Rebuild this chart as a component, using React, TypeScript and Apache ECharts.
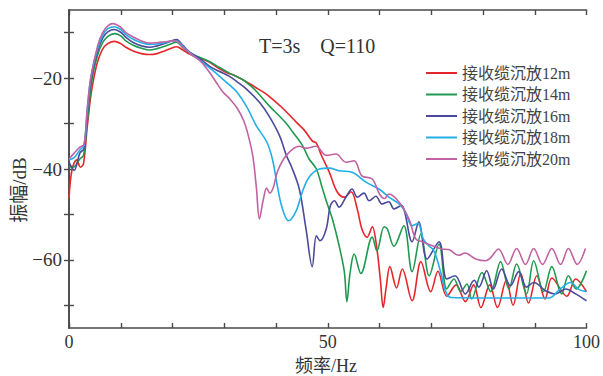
import React, { useEffect, useRef } from "react";
import * as echarts from "echarts";

const seriesNames = ["接收缆沉放12m", "接收缆沉放14m", "接收缆沉放16m", "接收缆沉放18m", "接收缆沉放20m"];
const seriesColors = ["#e6262b", "#1f9a50", "#4b4a9c", "#22aee8", "#c163a3"];

const xTicks = [0, 10, 20, 30, 40, 50, 60, 70, 80, 90, 100];
const xLabels = [0, 50, 100];
const yTicks = [-70, -60, -50, -40, -30, -20, -10];
const yLabels = [-60, -40, -20];

const red12: number[][] = [
  [0, -46.6], [0.6, -40], [1.5, -38], [2.2, -39.6], [2.8, -38.8], [3.5, -31], [4.2, -24], [4.8, -20], [5.5, -16.5],
  [6.5, -13.6], [7.5, -12.4], [8.8, -11.9], [10, -12.4], [11, -13.2], [12.5, -14.1], [14, -14.6], [15.6, -14.8],
  [17, -14.6], [18.5, -14], [20, -13.3], [20.8, -13.1], [22, -13.8], [23.3, -14.7], [25, -15.5], [27, -16.4],
  [29, -17.9], [30.5, -18.8], [32, -19.4], [34, -20.6], [36, -22], [38, -23.4], [39.5, -24.8], [41, -26.3],
  [42.5, -28], [44, -29.8], [45.5, -31.5], [47, -33.8], [47.8, -34.3], [48.7, -36.8], [50.3, -40.7], [51.8, -45],
  [53.2, -46.2], [54.5, -45], [55.7, -48.8], [56.6, -53.2], [57.6, -55], [58.6, -52.7], [59.5, -57.6], [60.2, -64.8],
  [60.7, -70.5], [61.3, -66], [62, -61.5], [63.3, -66.2], [64.4, -62], [66.3, -69], [68, -60.4], [69.9, -67],
  [71.3, -62.5], [73, -68], [74.8, -65.5], [76.6, -69.2], [78.2, -65.5], [79.6, -70.5], [81.3, -65.5], [82.8, -70.5],
  [84.5, -64.5], [85.8, -70], [87.3, -63], [88.8, -69.5], [90.4, -63.5], [92, -68.6], [93.3, -64], [96.2, -68],
  [97.9, -64.2], [100, -67],
];

const green14: number[][] = [
  [0, -39.5], [0.8, -39.6], [2.1, -37.8], [2.8, -37], [3.5, -30], [4.5, -20], [5.5, -15], [6.5, -12.2], [7.5, -10.8],
  [8.8, -10.2], [10, -10.7], [11, -11.8], [12.5, -12.8], [14, -13.4], [15.6, -13.8], [17, -13.5], [18.5, -13],
  [20, -12.3], [20.8, -12.1], [22, -13.3], [23.3, -14.4], [25, -15.3], [27, -16.3], [29, -17.6], [31, -18.9],
  [33.5, -20.3], [35, -21.6], [36.2, -22.9], [38.7, -26.1], [40.7, -28.4], [42, -30], [43.2, -31.8], [45.1, -34.8],
  [46.4, -37.8], [47.8, -40], [49, -44.4], [50, -48], [50.9, -51], [52.2, -56.9], [53.2, -62.6], [53.7, -69.2],
  [54.3, -63], [55.1, -58.7], [56.4, -63], [58.6, -55], [59.5, -58], [60.9, -52.7], [61.5, -53.2], [62.8, -57],
  [64.7, -52.5], [66.3, -62.6], [68, -54.3], [69.6, -63.5], [71.5, -56.5], [73, -66.4], [74.4, -64.2], [75.7, -67],
  [76.9, -65.3], [77.8, -68.6], [79.8, -62.8], [81.5, -67], [83.4, -60.4], [85, -66.4], [86.5, -60.9], [88.4, -67.5],
  [89.8, -60.2], [91.7, -67], [93.3, -61.5], [95.2, -67.5], [96.5, -63.5], [98, -66.4], [100, -62.4],
];

const blue16: number[][] = [
  [0, -38.5], [1, -40.3], [2.1, -36.5], [2.9, -35.5], [3.5, -28.5], [4.3, -20], [5.5, -14.2], [6.5, -11.2], [7.5, -9.8],
  [8.8, -9.3], [10, -9.9], [11, -11], [12.5, -12.2], [14, -12.9], [15.6, -13.2], [17, -12.9], [18.5, -12.4],
  [20, -11.7], [20.8, -11.5], [22, -12.8], [23.3, -14.3], [25, -15.5], [27.2, -17.4], [29, -18.5], [31, -19.6],
  [32.5, -20.8], [34.3, -22.4], [36.8, -25.3], [38.7, -28.4], [40.7, -32.7], [42, -37], [43, -39.5], [44.5, -44.4],
  [45.8, -53.2], [47, -61.5], [47.8, -54.7], [48.5, -55.8], [49.7, -53.2], [50.5, -48.1], [51.3, -47], [52.2, -48.4],
  [53.5, -46.2], [54.7, -44.4], [55.7, -46.2], [57, -45.3], [58, -47], [59.3, -46], [60.5, -47.7], [61.8, -47.2],
  [62.8, -48.8], [64.2, -48], [66.3, -56], [67.6, -51.6], [69.2, -59.8], [71.5, -56], [73, -64.2], [74.6, -63.5],
  [76.6, -67.5], [78.3, -64.5], [79.2, -66], [80.7, -62.4], [82, -66.4], [83.6, -62], [85.3, -65.7], [86.9, -62.6],
  [88.4, -66], [89.8, -65], [92.1, -66.8], [94, -67.5], [96, -66.4], [97.9, -67.5], [100, -69],
];

const cyan18: number[][] = [
  [0, -38], [1, -37.5], [2.1, -35.8], [2.9, -34.8], [3.5, -27.5], [4.2, -20], [5.5, -13.6], [6.5, -10.6], [7.5, -9.1],
  [8.8, -8.7], [10, -9.3], [11, -10.4], [12.5, -11.5], [14, -12.2], [15.6, -12.6], [17, -12.5], [18.5, -12.2],
  [20, -11.8], [20.8, -11.8], [22, -13], [23.3, -14.4], [25, -15.8], [26.2, -16.9], [28, -18.5], [29.7, -20.2],
  [31, -21.5], [32.4, -23], [34.3, -26.2], [36.2, -30.5], [38.2, -34], [39.3, -37.8], [40.3, -44], [41.2, -48.6],
  [42.4, -51.4], [43.9, -49.2], [45.1, -45], [46.4, -41.8], [48.4, -40], [50.3, -39.8], [52.2, -40.4], [54.7, -40.7],
  [57.4, -42.9], [59.9, -44.4], [61.8, -46.2], [63.8, -47.7], [65, -49.5], [66.3, -52.5], [67.4, -52], [68.5, -55.5],
  [69.6, -57], [70.4, -57.8], [71.1, -59.8], [72, -63.5], [72.8, -67], [73.8, -68.3], [80, -68.4], [92.7, -68.4],
  [95, -66.3], [96.9, -65], [98.5, -66.5], [100, -67],
];

const pink20: number[][] = [
  [0, -37.8], [1, -36.5], [2.1, -35.2], [2.9, -34.6], [3.5, -27], [4.2, -20], [5.5, -13], [6.5, -10], [7.5, -8.5],
  [8.5, -8], [10, -8.8], [11, -10], [12.5, -11], [14, -11.8], [15.6, -12.3], [17, -12.2], [18.5, -12], [20, -11.8],
  [20.8, -11.9], [22, -13.2], [23.3, -14.5], [24.5, -15.5], [25.6, -16.5], [27, -18.5], [28.5, -21], [29.7, -23],
  [31, -24.5], [32.6, -26.8], [33.8, -29.5], [34.5, -32], [35.5, -37], [36.2, -44], [36.8, -51], [37.5, -47],
  [38.2, -44.2], [38.8, -45.3], [39.5, -44], [40.3, -40.5], [42, -37], [44.5, -35], [45.8, -35.4], [47.7, -35],
  [49.7, -37], [51.6, -36.7], [53.5, -38.5], [55.1, -38.2], [56.6, -41.5], [58.6, -42.2], [60, -45.5], [61, -46.5],
  [61.8, -45.5], [63.8, -47.3], [65.7, -51], [67, -55.4], [68.2, -56], [70.5, -57], [72, -57.6], [73.5, -57.8],
  [75.3, -59], [76.5, -58.5], [78.6, -59.8], [80.5, -60.2], [81.5, -59.5], [83, -57.6], [84.8, -61], [86.5, -57.5],
  [88.2, -61], [89.8, -57.5], [91.5, -61], [93.3, -57.5], [95, -61], [96.5, -57.5], [98.2, -61], [99.8, -57.5],
];

const allData = [red12, green14, blue16, cyan18, pink20];

const FONT = '"Liberation Serif", "Noto Sans CJK SC", serif';
const AXIS_COLOR = "#4a4a4a";

export default function App() {
  const ref = useRef<HTMLDivElement>(null);
  useEffect(() => {
    if (!ref.current) return;
    const chart = echarts.init(ref.current, null, { renderer: "svg" });
    const axisLine = { show: true, lineStyle: { color: AXIS_COLOR, width: 1.6 } };
    const tick = { show: true, inside: true, length: 5, lineStyle: { color: AXIS_COLOR, width: 1.4 } };
    const minus = (v: number) => String(v).replace("-", "\u2212");
    chart.setOption({
      animation: false,
      backgroundColor: "#ffffff",
      grid: { left: 69, right: 15, top: 10, bottom: 48, containLabel: false },
      title: {
        text: "T=3s    Q=110",
        left: 254,
        top: 31,
        textStyle: { fontFamily: FONT, fontSize: 20, fontWeight: "normal", color: "#333" },
      },
      legend: {
        orient: "vertical",
        left: 421,
        top: 60,
        itemWidth: 31,
        itemHeight: 2,
        itemGap: 5.5,
        icon: "rect",
        data: seriesNames,
        textStyle: { fontFamily: FONT, fontSize: 16, color: "#444", lineHeight: 16 },
      },
      xAxis: [
        {
          type: "value",
          min: 0,
          max: 100,
          position: "bottom",
          axisLine,
          axisTick: { ...tick, customValues: xTicks },
          axisLabel: { customValues: xLabels, fontFamily: FONT, fontSize: 18, color: "#333", margin: 5 },
          splitLine: { show: false },
        },
        {
          type: "value",
          min: 0,
          max: 100,
          position: "top",
          axisLine,
          axisTick: { ...tick, customValues: xTicks },
          axisLabel: { show: false },
          splitLine: { show: false },
        },
      ],
      yAxis: [
        {
          type: "value",
          min: -75,
          max: -5,
          position: "left",
          axisLine,
          axisTick: { ...tick, customValues: yTicks },
          axisLabel: { customValues: yLabels, formatter: minus, fontFamily: FONT, fontSize: 19, color: "#333", margin: 7 },
          splitLine: { show: false },
        },
        {
          type: "value",
          min: -75,
          max: -5,
          position: "right",
          axisLine,
          axisTick: { ...tick, customValues: yTicks },
          axisLabel: { show: false },
          splitLine: { show: false },
        },
      ],
      graphic: [
        {
          type: "text",
          x: 19,
          y: 190,
          rotation: Math.PI / 2,
          style: {
            text: "振幅/dB",
            fontFamily: FONT,
            fontSize: 19,
            fill: "#333",
            align: "center",
            verticalAlign: "middle",
          },
        },
        {
          type: "text",
          x: 326,
          y: 366,
          style: {
            text: "频率/Hz",
            fontFamily: FONT,
            fontSize: 18,
            fill: "#333",
            align: "center",
            verticalAlign: "middle",
          },
        },
      ],
      series: allData.map((d, i) => ({
        name: seriesNames[i],
        type: "line",
        data: d,
        xAxisIndex: 0,
        yAxisIndex: 0,
        smooth: 0.35,
        symbol: "none",
        lineStyle: { color: seriesColors[i], width: 1.6 },
        itemStyle: { color: seriesColors[i] },
      })),
    });
    return () => chart.dispose();
  }, []);
  return <div ref={ref} style={{ position: "fixed", left: 0, top: 0, width: 603, height: 376 }} />;
}
